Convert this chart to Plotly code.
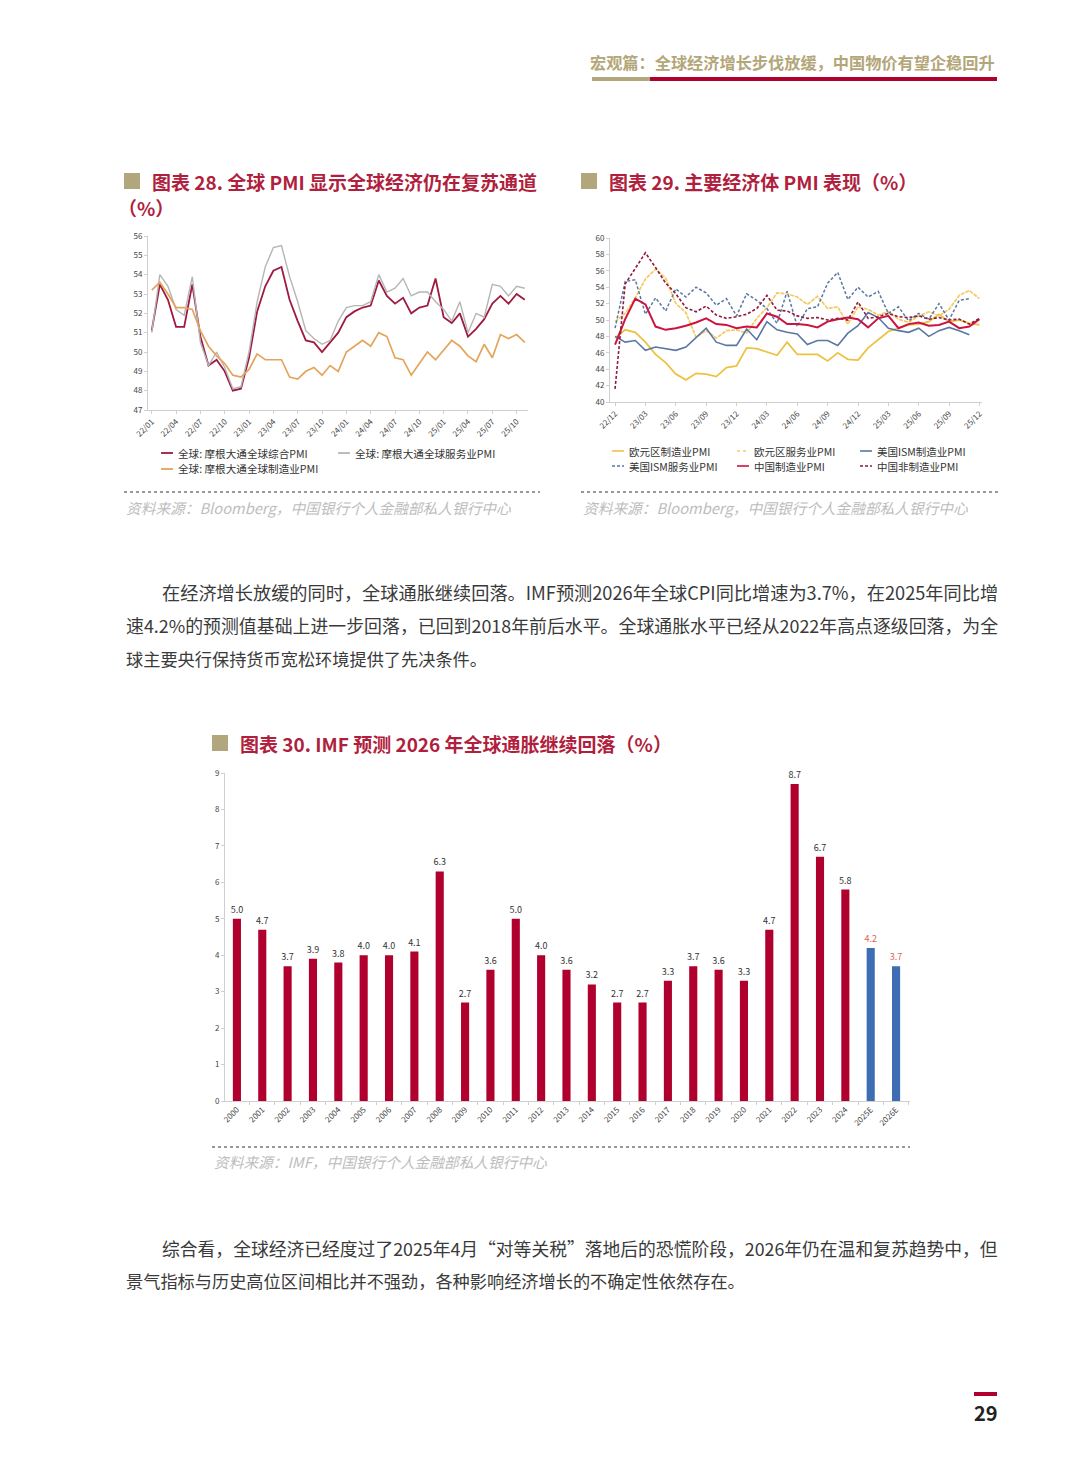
import plotly.graph_objects as go

W, H = 1080, 1465
def px(x): return x / W
def py(y): return 1 - y / H

FONT = "Noto Sans CJK SC"
TITLE_RED = "#B01F3E"
KHAKI = "#B3A679"
CRIMSON = "#B0002E"

# ---------------- Chart 28 data (monthly 22/01 - 25/11) ----------------
months28 = [f"{y:02d}/{m:02d}" for y in range(22, 26) for m in range(1, 13)][:47]
ticks28 = ["22/01", "22/04", "22/07", "22/10", "23/01", "23/04", "23/07", "23/10",
           "24/01", "24/04", "24/07", "24/10", "25/01", "25/04", "25/07", "25/10"]
names28 = ["全球: 摩根大通全球综合PMI", "全球: 摩根大通全球服务业PMI", "全球: 摩根大通全球制造业PMI"]
composite = [51.1, 53.5, 52.7, 51.3, 51.3, 53.5, 50.8, 49.3, 49.6, 49.0, 48.0, 48.1,
             49.7, 52.1, 53.4, 54.2, 54.4, 52.7, 51.6, 50.6, 50.5, 50.0, 50.5, 51.0,
             51.8, 52.1, 52.3, 52.4, 53.7, 52.9, 52.5, 52.8, 52.0, 52.3, 52.4, 53.8,
             51.8, 51.5, 52.0, 50.8, 51.2, 51.7, 52.5, 52.9, 52.5, 53.0, 52.7]
services = [51.0, 54.0, 53.4, 52.2, 51.9, 53.9, 50.5, 49.3, 50.0, 49.2, 48.1, 48.2,
            50.0, 52.6, 54.4, 55.4, 55.5, 53.9, 52.6, 51.1, 50.7, 50.4, 50.6, 51.6,
            52.3, 52.4, 52.4, 52.6, 54.0, 53.1, 53.3, 53.8, 52.9, 53.1, 53.1, 52.6,
            52.2, 51.6, 52.6, 51.0, 52.0, 51.8, 53.5, 53.4, 52.9, 53.4, 53.3]
manufacturing = [53.2, 53.6, 53.0, 52.3, 52.3, 52.2, 51.1, 50.3, 49.8, 49.4, 48.8, 48.7,
                 49.1, 49.9, 49.6, 49.6, 49.6, 48.7, 48.6, 49.0, 49.2, 48.8, 49.3, 49.0,
                 50.0, 50.3, 50.6, 50.3, 51.0, 50.8, 49.7, 49.6, 48.8, 49.4, 50.0, 49.6,
                 50.1, 50.6, 50.3, 49.8, 49.5, 50.4, 49.7, 50.9, 50.7, 50.9, 50.5]
colors28 = ["#9E1A3F", "#B5B5B5", "#E3A45C"]
widths28 = [1.8, 1.4, 1.7]

# ---------------- Chart 29 data (monthly 22/12 - 25/12) ----------------
months29 = ["22/12"] + [f"{y:02d}/{m:02d}" for y in range(23, 26) for m in range(1, 13)]
ticks29 = ["22/12", "23/03", "23/06", "23/09", "23/12", "24/03", "24/06", "24/09",
           "24/12", "25/03", "25/06", "25/09", "25/12"]
names29 = ["欧元区制造业PMI", "欧元区服务业PMI", "美国ISM制造业PMI",
           "美国ISM服务业PMI", "中国制造业PMI", "中国非制造业PMI"]
ez_mfg = [47.8, 48.8, 48.5, 47.3, 45.8, 44.8, 43.4, 42.7, 43.5, 43.4, 43.1, 44.2, 44.4,
          46.6, 46.5, 46.1, 45.7, 47.3, 45.8, 45.8, 45.8, 45.0, 46.0, 45.2, 45.1,
          46.6, 47.6, 48.6, 49.0, 49.4, 49.5, 49.8, 50.7, 49.8, 50.0, 49.6, 49.4]
ez_srv = [49.8, 50.8, 52.7, 55.0, 56.2, 55.1, 52.0, 50.9, 47.9, 48.7, 47.8, 48.7, 48.8,
          48.4, 50.2, 51.5, 53.3, 53.2, 52.8, 51.9, 52.9, 51.4, 51.6, 49.5, 51.6,
          51.3, 50.6, 51.0, 50.1, 49.7, 50.5, 51.0, 50.5, 51.3, 53.0, 53.6, 52.6]
us_mfg = [48.0, 47.3, 47.5, 46.3, 46.7, 46.5, 46.3, 46.7, 47.8, 49.0, 47.3, 46.9, 46.9,
          48.9, 47.6, 49.8, 48.8, 48.5, 48.3, 47.0, 47.5, 47.5, 46.9, 48.4, 49.3,
          50.9, 50.3, 49.0, 48.7, 48.5, 49.0, 48.0, 48.7, 49.1, 48.7, 48.2]
us_srv = [49.0, 54.7, 54.9, 50.7, 52.7, 51.1, 53.8, 52.8, 54.0, 53.3, 51.8, 52.6, 50.5,
          53.2, 52.4, 51.4, 49.6, 53.5, 49.2, 51.4, 51.6, 54.5, 55.8, 52.5, 54.0,
          52.8, 53.5, 50.8, 51.6, 49.9, 50.8, 50.1, 52.0, 50.0, 52.4, 52.6]
cn_mfg = [47.0, 50.1, 52.6, 51.9, 49.2, 48.8, 49.0, 49.3, 49.7, 50.2, 49.5, 49.4, 49.0,
          49.2, 49.1, 50.8, 50.4, 49.5, 49.5, 49.4, 49.1, 49.8, 50.1, 50.3, 50.1,
          49.1, 50.2, 50.5, 49.0, 49.5, 49.7, 49.3, 49.4, 49.8, 49.0, 49.2, 50.1]
cn_nonmfg = [41.6, 54.4, 56.3, 58.2, 56.4, 54.5, 53.2, 51.5, 51.0, 51.7, 50.6, 50.2, 50.4,
             50.7, 51.4, 53.0, 51.2, 51.1, 50.5, 50.2, 50.3, 50.0, 50.2, 50.0, 52.2,
             50.2, 50.4, 50.8, 50.4, 50.3, 50.5, 50.1, 50.3, 50.0, 50.1, 49.5, 50.2]
series29 = [ez_mfg, ez_srv, us_mfg, us_srv, cn_mfg, cn_nonmfg]
colors29 = ["#EDC243", "#F3CB62", "#5A77A4", "#5A77A4", "#CC1440", "#8E1A3C"]
dashes29 = ["solid", "4px,1px", "solid", "3px,2px", "solid", "3px,2px"]
legdash29 = ["solid", "dot", "solid", "3px,2px", "solid", "3px,2px"]
widths29 = [1.8, 1.7, 1.6, 1.5, 2.0, 1.6]

# ---------------- Chart 30 data ----------------
years30 = [str(y) for y in range(2000, 2025)] + ["2025E", "2026E"]
cpi30 = [5.0, 4.7, 3.7, 3.9, 3.8, 4.0, 4.0, 4.1, 6.3, 2.7, 3.6, 5.0, 4.0, 3.6, 3.2,
         2.7, 2.7, 3.3, 3.7, 3.6, 3.3, 4.7, 8.7, 6.7, 5.8, 4.2, 3.7]
is_forecast = [y.endswith("E") for y in years30]

fig = go.Figure()

for name, vals, c, w in zip(names28, [composite, services, manufacturing], colors28, widths28):
    fig.add_trace(go.Scatter(x=months28, y=vals, mode="lines", name=name,
                             line=dict(color=c, width=w), xaxis="x", yaxis="y",
                             showlegend=False))

for name, vals, c, d, w in zip(names29, series29, colors29, dashes29, widths29):
    fig.add_trace(go.Scatter(x=months29[:len(vals)], y=vals, mode="lines", name=name,
                             line=dict(color=c, width=w, dash=d), xaxis="x2", yaxis="y2",
                             showlegend=False))

bar_colors = ["#3F6DB3" if f else "#B0002E" for f in is_forecast]
txt_colors = ["#E0655A" if f else "#333333" for f in is_forecast]
fig.add_trace(go.Bar(x=years30, y=cpi30, marker=dict(color=bar_colors, line=dict(width=0)),
                     text=[f"{v:.1f}" for v in cpi30], textposition="outside",
                     constraintext="none",
                     textfont=dict(size=9, color=txt_colors, family=FONT),
                     cliponaxis=False, xaxis="x3", yaxis="y3", showlegend=False))

axis_common = dict(showgrid=False, zeroline=False, showline=True, linecolor="#CFCFCF",
                   linewidth=1, ticks="outside", ticklen=3, tickcolor="#CFCFCF",
                   automargin=False,
                   tickfont=dict(size=8, color="#444444", family=FONT))

fig.update_layout(
    width=W, height=H, margin=dict(l=0, r=0, t=0, b=0, pad=0, autoexpand=False),
    paper_bgcolor="white", plot_bgcolor="white", bargap=0.68,
    font=dict(family=FONT),
    xaxis=dict(axis_common, domain=[px(148), px(528)], anchor="y", type="category",
               range=[-0.46, 46.4], tickvals=ticks28, ticktext=ticks28, tickangle=-45),
    yaxis=dict(axis_common, domain=[py(410), py(236)], anchor="x", range=[47, 56], dtick=1),
    xaxis2=dict(axis_common, domain=[px(610), px(982)], anchor="y2", type="category",
                range=[-0.5, 36.25], tickvals=ticks29, ticktext=ticks29, tickangle=-45),
    yaxis2=dict(axis_common, domain=[py(402), py(238)], anchor="x2", range=[40, 60], dtick=2),
    xaxis3=dict(axis_common, domain=[px(225), px(910)], anchor="y3", type="category",
                range=[-0.47, 26.55], tickangle=-45, tickson="boundaries"),
    yaxis3=dict(axis_common, domain=[py(1101), py(773)], anchor="x3", range=[0, 9], dtick=1),
)

shapes = []
ann = []

def text(x, y, s, size, color="#333333", xanchor="left", weight="normal", style="normal"):
    ann.append(dict(x=px(x), y=py(y), xref="paper", yref="paper", text=s, showarrow=False,
                    xanchor=xanchor, yanchor="middle",
                    font=dict(family=FONT, size=size, color=color, weight=weight, style=style)))

def rect(x0, y0, x1, y1, color):
    shapes.append(dict(type="rect", xref="paper", yref="paper", x0=px(x0), x1=px(x1),
                       y0=py(y1), y1=py(y0), fillcolor=color, line=dict(width=0)))

def hline(x0, x1, y, color, width=1.5, dash="solid"):
    shapes.append(dict(type="line", xref="paper", yref="paper", x0=px(x0), x1=px(x1),
                       y0=py(y), y1=py(y), line=dict(color=color, width=width, dash=dash)))

# header
text(997, 62, "宏观篇：全球经济增长步伐放缓，中国物价有望企稳回升", 16.2, KHAKI, "right", "bold")
rect(592, 77, 650, 81, "#B1A67C")
rect(650, 77, 997, 81, CRIMSON)

# chart titles
rect(124, 173, 140, 189, "#B1A67C")
text(150, 181, "图表 28. 全球 PMI 显示全球经济仍在复苏通道", 19, TITLE_RED, weight="bold")
text(116, 208, "（%）", 19, TITLE_RED, weight="bold")
rect(581, 173, 597, 189, "#B1A67C")
text(607, 181, "图表 29. 主要经济体 PMI 表现（%）", 19, TITLE_RED, weight="bold")

# chart 28 legend
leg28_pos = [(161, 453), (338, 453), (161, 469)]
for (lx, ly), name, c in zip(leg28_pos, names28, colors28):
    hline(lx, lx + 12, ly, c, 1.8)
    text(lx + 15, ly, name, 10.6, "#333333")

# chart 29 legend
leg29_pos = [(612, 451), (737, 451), (860, 451), (612, 466), (737, 466), (860, 466)]
for (lx, ly), name, c, d in zip(leg29_pos, names29, colors29, legdash29):
    hline(lx, lx + 12, ly, c, 1.6, d)
    text(lx + 15, ly, name, 10.5, "#333333")

SRC = "#BDBDBD"
hline(124, 540, 492, "#777777", 1.5, "dot")
hline(581, 998, 492, "#777777", 1.5, "dot")
text(124, 508, "资料来源：Bloomberg，中国银行个人金融部私人银行中心", 14.7, SRC, style="italic")
text(581, 508, "资料来源：Bloomberg，中国银行个人金融部私人银行中心", 14.7, SRC, style="italic")

# paragraph 1
BODY = "#3A3A3A"
text(160, 592, "在经济增长放缓的同时，全球通胀继续回落。IMF预测2026年全球CPI同比增速为3.7%，在2025年同比增", 18.2, BODY)
text(124, 625, "速4.2%的预测值基础上进一步回落，已回到2018年前后水平。全球通胀水平已经从2022年高点逐级回落，为全", 17.9, BODY)
text(124, 658, "球主要央行保持货币宽松环境提供了先决条件。", 17.2, BODY)

# chart 30 title
rect(212, 735, 228, 751, "#B1A67C")
text(238, 743, "图表 30. IMF 预测 2026 年全球通胀继续回落（%）", 19, TITLE_RED, weight="bold")
hline(212, 910, 1147, "#777777", 1.5, "dot")
text(212, 1161, "资料来源：IMF，中国银行个人金融部私人银行中心", 14.7, SRC, style="italic")

# paragraph 2
text(160, 1248, "综合看，全球经济已经度过了2025年4月“对等关税”落地后的恐慌阶段，2026年仍在温和复苏趋势中，但", 17.8, BODY)
text(124, 1280, "景气指标与历史高位区间相比并不强劲，各种影响经济增长的不确定性依然存在。", 17.2, BODY)

# page number
rect(974, 1392, 997, 1396, CRIMSON)
text(986, 1412, "29", 20, "#222222", "center", "bold")

fig.update_layout(shapes=shapes, annotations=ann)
fig.write_html("out.html", config={"displayModeBar": False},
               post_script="document.body.style.margin='0px';")
